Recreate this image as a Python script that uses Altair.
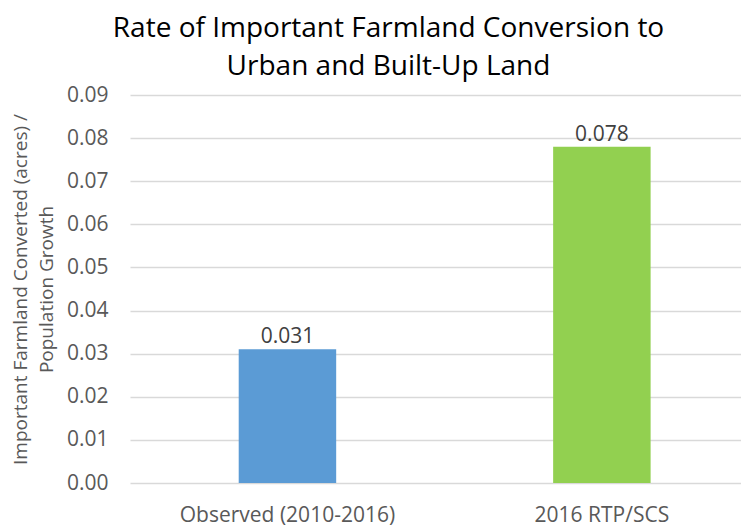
import altair as alt
import pandas as pd

categories = ["Observed (2010-2016)", "2016 RTP/SCS"]
values = [0.031, 0.078]
labels = ["0.031", "0.078"]
colors = ["#5B9BD5", "#92D050"]

df = pd.DataFrame({"cat": categories, "val": values, "lab": labels, "color": colors})

FONT = "Open Sans"

x = alt.X("cat:N", sort=categories, title=None,
          scale=alt.Scale(paddingInner=0.69, paddingOuter=0.3166, align=0.546),
          axis=alt.Axis(labelAngle=0, labelFont=FONT, labelFontSize=21, labelColor="#595959",
                        ticks=False, domain=False, labelPadding=21, labelBaseline="top",
                        labelLimit=0))
y = alt.Y("val:Q", title=["Important Farmland Converted (acres) /", "Population Growth"],
          scale=alt.Scale(domain=[0, 0.09], nice=False),
          axis=alt.Axis(values=[i / 100 for i in range(10)], format=".2f",
                        labelFont=FONT, labelFontSize=21, labelColor="#595959",
                        ticks=False, domain=False, labelPadding=22,
                        grid=True, gridColor="#d9d9d9", gridWidth=1.5,
                        titleFont=FONT, titleFontSize=19, titleFontWeight="normal",
                        titleColor="#595959", titleLineHeight=26, titlePadding=10))

bars = alt.Chart(df).mark_bar().encode(
    x=x, y=y, color=alt.Color("color:N", scale=None)
)
text = alt.Chart(df).mark_text(font=FONT, fontSize=21, color="#404040", baseline="alphabetic", dy=-6).encode(
    x=alt.X("cat:N", sort=categories), y="val:Q", text="lab:N"
)

chart = alt.layer(bars, text).properties(
    width=611, height=388,
    padding={"left": 122, "top": 87, "right": 0, "bottom": 44},
    autosize=alt.AutoSizeParams(type="none"),
    title=alt.TitleParams(["Rate of Important Farmland Conversion to", "Urban and Built-Up Land"],
                          font=FONT, fontSize=28, fontWeight="normal", color="#000000",
                          lineHeight=38, dx=-47, offset=3),
).configure_view(stroke=None)

chart.save("out.html", embed_options={"renderer": "svg", "actions": False})
